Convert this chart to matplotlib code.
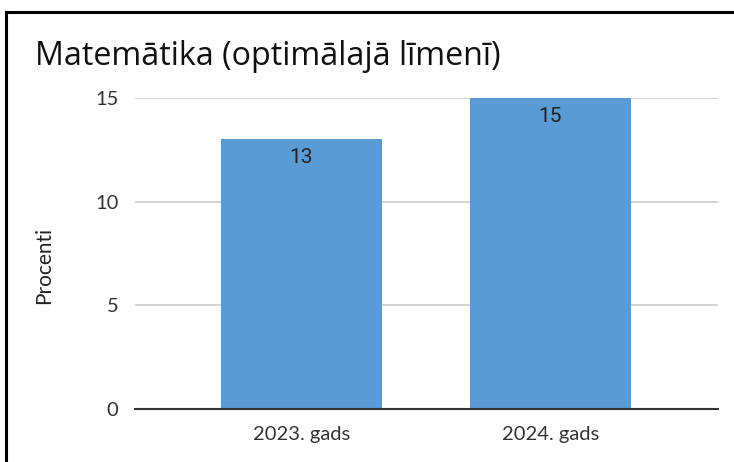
import matplotlib
matplotlib.use('Agg')
from matplotlib import pyplot as plt
from matplotlib.lines import Line2D

categories = ['2023. gads', '2024. gads']
values = [13, 15]
yticks = [0, 5, 10, 15]

fig = plt.figure(figsize=(7.34, 4.62), dpi=100)
ax = fig.add_axes([135 / 734, 1 - 409 / 462, 583 / 734, 311 / 462])

x = range(len(categories))
ax.bar(x, values, width=0.647, color='#5b9bd5', zorder=2)
ax.set_xlim(-0.669, 1.673)
ax.set_ylim(0, 15)

for xi, v in zip(x, values):
    ax.text(xi, v - 0.87, str(v), ha='center', va='center',
            fontsize=15, family='Roboto', color='#222222', zorder=3)

ax.set_yticks(yticks)
ax.set_xticks(list(x))
ax.set_xticklabels(categories, family='Lato', fontsize=14.5, color='#333333')
ax.set_yticklabels([str(t) for t in yticks], family='Lato', fontsize=14.5, color='#333333')
ax.tick_params(length=0, pad=12)
ax.tick_params(axis='x', pad=12)
ax.grid(axis='y', color='#cccccc', linewidth=1.2, zorder=0)
for s in ['top', 'right', 'left']:
    ax.spines[s].set_visible(False)
ax.spines['bottom'].set_color('#333333')
ax.spines['bottom'].set_linewidth(1.5)
ax.spines['bottom'].set_zorder(3)

ax.set_ylabel('Procenti', family='Lato', fontsize=15, color='#222222')
ax.yaxis.set_label_coords(-0.139, 0.463)

fig.text(35 / 734, 1 - 65 / 462, 'Matemātika (optimālajā līmenī)',
         family='Open Sans', fontsize=23.2, color='#111111', va='baseline', ha='left')

# frame lines (top and left only visible)
fig.lines.append(Line2D([6 / 734, 1], [1 - 12 / 462, 1 - 12 / 462],
                        transform=fig.transFigure, color='black', linewidth=2.2))
fig.lines.append(Line2D([6 / 734, 6 / 734], [0, 1 - 12 / 462],
                        transform=fig.transFigure, color='black', linewidth=2.2))

plt.savefig('out.png', dpi=100)
